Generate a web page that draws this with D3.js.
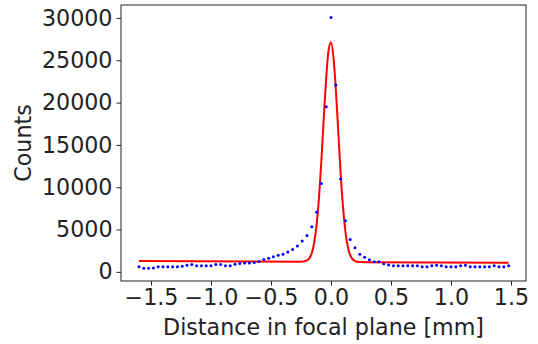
<!DOCTYPE html>
<html>
<head>
<meta charset="utf-8">
<script src="https://cdn.jsdelivr.net/npm/d3@7"></script>
<style>
  html, body { margin: 0; padding: 0; background: #fff; }
  svg { display: block; }
  text { font-family: "DejaVu Sans", sans-serif; fill: #222; }
</style>
</head>
<body>
<svg id="chart" width="538" height="344"></svg>
<script>
// Measured points: x positions (mm) and counts
const pointX = [
  -1.60,-1.56,-1.52,-1.48,-1.44,-1.40,-1.36,-1.32,-1.28,-1.24,
  -1.20,-1.16,-1.12,-1.08,-1.04,-1.00,-0.96,-0.92,-0.88,-0.84,
  -0.80,-0.76,-0.72,-0.68,-0.64,-0.60,-0.56,-0.52,-0.48,-0.44,
  -0.40,-0.36,-0.32,-0.28,-0.24,-0.20,-0.16,-0.12,-0.08,-0.04,
   0.00, 0.04, 0.08, 0.12, 0.16, 0.20, 0.24, 0.28, 0.32, 0.36,
   0.40, 0.44, 0.48, 0.52, 0.56, 0.60, 0.64, 0.68, 0.72, 0.76,
   0.80, 0.84, 0.88, 0.92, 0.96, 1.00, 1.04, 1.08, 1.12, 1.16,
   1.20, 1.24, 1.28, 1.32, 1.36, 1.40, 1.44, 1.48
];
const pointCounts = [
   590, 440, 440, 470, 590, 590, 590, 590, 590, 650,
   770, 870, 710, 710, 710, 710, 870, 870, 710, 710,
   910, 990,1060,1060,1100,1220,1460,1620,1780,1970,
  2090,2360,2650,3070,3660,4300,5320,7050,10450,19500,
 30050,22070,10960,6030,3830,2840,2070,1740,1420,1180,
  1180, 950, 800, 710, 710, 710, 710, 710, 710, 590,
   590, 710, 790, 710, 590, 590, 590, 710, 790, 590,
   590, 590, 590, 590, 710, 590, 590, 710
];

// Fitted curve at sample positions
const fitX = [
  -1.60,-0.30,-0.24,-0.20,-0.16,-0.14,-0.12,-0.10,-0.08,-0.06,
  -0.04,-0.02, 0.00, 0.02, 0.04, 0.06, 0.08, 0.10, 0.12, 0.14,
   0.16, 0.20, 0.24, 0.30, 1.48
];
const fitCounts = [
  1270, 1190, 1200, 1345, 2230, 3440, 5555, 8820,13190,18210,
 22930,26210,27140,25440,21600,16680,11770, 7700, 4790, 2975,
  1975, 1275, 1162, 1146, 1070
];

const xTicks = [-1.5, -1.0, -0.5, 0.0, 0.5, 1.0, 1.5];
const yTicks = [0, 5000, 10000, 15000, 20000, 25000, 30000];
const xLabel = "Distance in focal plane [mm]";
const yLabel = "Counts";

const svg = d3.select("#chart");
const mLeft = 121, mRight = 526, mTop = 5, mBottom = 281;

const x = d3.scaleLinear().domain([-1.75, 1.625]).range([mLeft, mRight]);
const y = d3.scaleLinear().domain([-1080, 31530]).range([mBottom, mTop]);

const fs = 22.2;

// Fit line
const fitData = fitX.map((d, i) => [d, fitCounts[i]]);
svg.append("path")
  .datum(fitData)
  .attr("fill", "none")
  .attr("stroke", "#ff0000")
  .attr("stroke-width", 2)
  .attr("stroke-linejoin", "round")
  .attr("d", d3.line().x(d => x(d[0])).y(d => y(d[1])).curve(d3.curveMonotoneX));

// Points
svg.append("g").selectAll("circle")
  .data(pointX.map((d, i) => [d, pointCounts[i]]))
  .join("circle")
  .attr("cx", d => x(d[0]))
  .attr("cy", d => y(d[1]))
  .attr("r", 1.5)
  .attr("fill", "#0000ff");

// Axes
const fmtX = d => d3.format(".1f")(d).replace("-", "\u2212");
const xAxis = d3.axisBottom(x).tickValues(xTicks).tickFormat(fmtX).tickSize(4.5).tickPadding(3.5);
const yAxis = d3.axisLeft(y).tickValues(yTicks).tickFormat(d3.format("d")).tickSize(4.5).tickPadding(4);

const gx = svg.append("g").attr("transform", `translate(0,${mBottom})`).call(xAxis);
const gy = svg.append("g").attr("transform", `translate(${mLeft},0)`).call(yAxis);
[gx, gy].forEach(g => {
  g.select(".domain").remove();
  g.selectAll(".tick line").attr("stroke", "#222").attr("stroke-width", 1);
  g.selectAll(".tick text").attr("font-size", fs).attr("font-family", "DejaVu Sans").attr("fill", "#222");
});

// Frame
svg.append("rect")
  .attr("x", mLeft).attr("y", mTop)
  .attr("width", mRight - mLeft).attr("height", mBottom - mTop)
  .attr("fill", "none").attr("stroke", "#222").attr("stroke-width", 1);

// Labels
svg.append("text")
  .attr("x", (mLeft + mRight) / 2).attr("y", 335)
  .attr("text-anchor", "middle").attr("font-size", fs)
  .text(xLabel);

svg.append("text")
  .attr("transform", `translate(31,${(mTop + mBottom) / 2}) rotate(-90)`)
  .attr("text-anchor", "middle").attr("font-size", fs)
  .text(yLabel);
</script>
</body>
</html>
